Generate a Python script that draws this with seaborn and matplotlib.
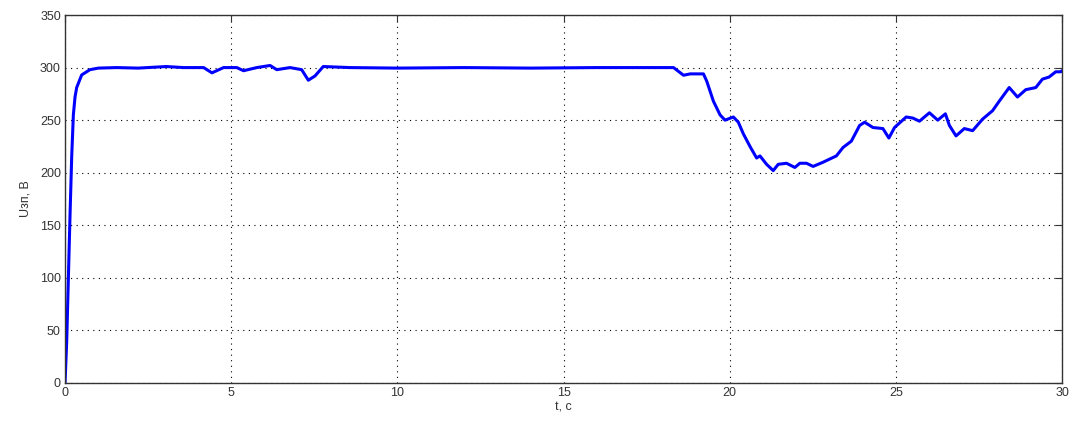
import numpy as np
import pandas as pd
import matplotlib
matplotlib.use('Agg')
import matplotlib.pyplot as plt
import seaborn as sns

# time, s and voltage, V
t = [0.0, 0.05, 0.1, 0.15, 0.2, 0.25, 0.3, 0.35, 0.5, 0.75, 1.0, 1.55, 2.2, 3.05,
     3.56, 4.17, 4.42, 4.77, 5.17, 5.37, 5.77, 6.17, 6.37, 6.77, 7.12, 7.32,
     7.52, 7.77, 8.57, 10.0, 12.0, 14.0, 16.0, 17.91, 18.31, 18.61, 18.81, 19.21,
     19.31, 19.51, 19.71, 19.86, 20.11, 20.26, 20.41, 20.61, 20.81, 20.91, 21.11,
     21.31, 21.46, 21.71, 21.96, 22.11, 22.31, 22.51, 22.81, 23.21, 23.41, 23.66,
     23.91, 24.06, 24.31, 24.61, 24.79, 24.96, 25.31, 25.51, 25.71, 26.01, 26.26,
     26.49, 26.61, 26.81, 27.06, 27.31, 27.61, 27.91, 28.11, 28.41, 28.66, 28.91,
     29.21, 29.41, 29.61, 29.81, 29.96, 30.0]
u = [0, 40, 100, 160, 215, 255, 272, 281, 293, 298, 299.5, 300, 299.5, 301,
     300, 300, 295, 300, 300, 297, 300, 302, 298, 300, 298, 288,
     292, 301, 300, 299.5, 300, 299.5, 300, 300, 300, 292.7, 294, 294,
     287, 268, 255, 250, 253, 248, 237, 225, 214, 216, 208,
     202, 208, 209, 205, 209, 209, 206, 210, 216, 224, 230,
     245, 248, 243, 242, 233, 243, 253, 252, 249, 257, 250,
     256, 245, 235, 242, 240, 251, 259, 268, 281, 272, 279,
     281, 289, 291, 296, 296, 297]

xticks = [0, 5, 10, 15, 20, 25, 30]
yticks = [0, 50, 100, 150, 200, 250, 300, 350]

df = pd.DataFrame({'t': t, 'u': u})

sns.set_style('white')
plt.rcParams['font.family'] = ['Liberation Sans', 'DejaVu Sans']

fig = plt.figure(figsize=(10.77, 4.24), dpi=100)
ax = fig.add_axes([0.0604, 0.0967, 0.9257, 0.8679])

sns.lineplot(data=df, x='t', y='u', ax=ax, color='#0000ff', linewidth=2.2)

ax.set_xlim(0, 30)
ax.set_ylim(0, 350)
ax.set_xticks(xticks)
ax.set_yticks(yticks)
ax.grid(True, color='black', linestyle=(0, (1, 4)), linewidth=0.8)
ax.tick_params(direction='in', length=5, top=True, right=True,
               labelsize=9, colors='#333333', pad=3)
for s in ax.spines.values():
    s.set_color('#333333')
    s.set_linewidth(1.0)
ax.set_xlabel('t, c', fontsize=9, color='#333333', labelpad=2)
ax.set_ylabel('Uзп, В', fontsize=9, color='#333333', labelpad=6)

fig.savefig('out.png', dpi=100)
